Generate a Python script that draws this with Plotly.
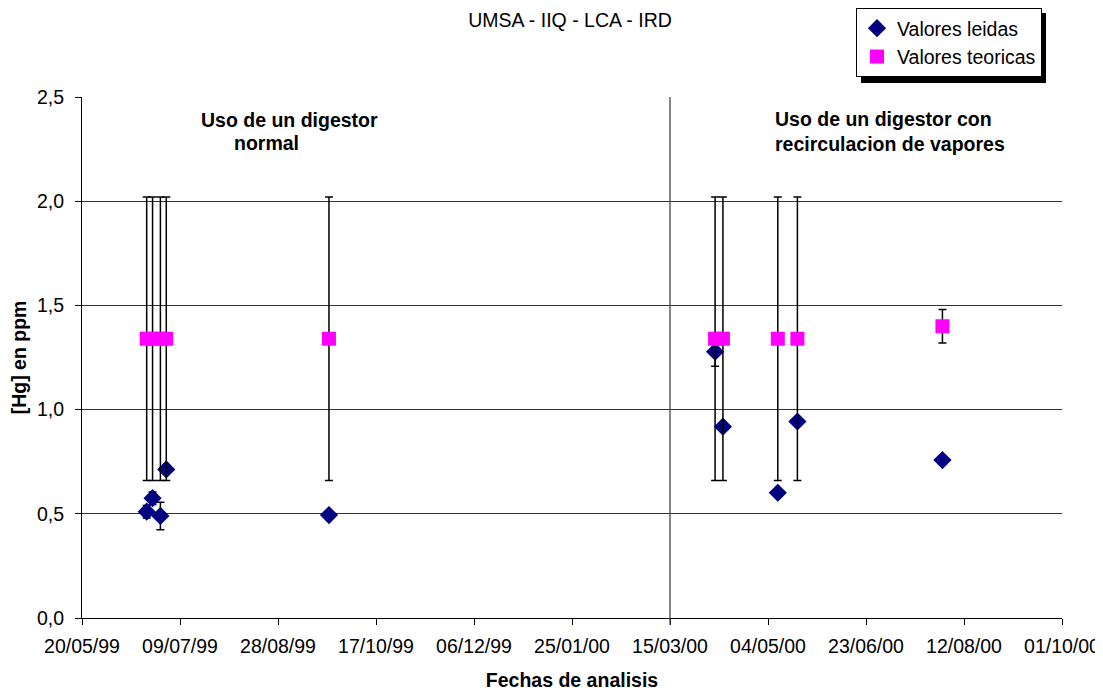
import plotly.graph_objects as go

# ---- data ----
fechas = ["1999-06-22", "1999-06-25", "1999-06-29", "1999-07-02", "1999-09-23",
          "2000-04-07", "2000-04-11", "2000-05-09", "2000-05-19", "2000-08-01"]
valores_leidas = [0.51, 0.575, 0.49, 0.713, 0.494, 1.278, 0.918, 0.601, 0.943, 0.758]
error_leidas = [0.03, 0.03, 0.066, 0.0, 0.0, 0.07, 0.0, 0.0, 0.0, 0.0]
valores_teoricas = [1.34, 1.34, 1.34, 1.34, 1.34, 1.34, 1.34, 1.34, 1.34, 1.40]
error_teoricas = [0.68, 0.68, 0.68, 0.68, 0.68, 0.68, 0.68, 0.68, 0.68, 0.08]

tick_fechas = ["1999-05-20", "1999-07-09", "1999-08-28", "1999-10-17", "1999-12-06",
               "2000-01-25", "2000-03-15", "2000-05-04", "2000-06-23", "2000-08-12",
               "2000-10-01"]
tick_labels = ["20/05/99", "09/07/99", "28/08/99", "17/10/99", "06/12/99",
               "25/01/00", "15/03/00", "04/05/00", "23/06/00", "12/08/00", "01/10/00"]
y_ticks = [0.0, 0.5, 1.0, 1.5, 2.0, 2.5]
y_labels = ["0,0", "0,5", "1,0", "1,5", "2,0", "2,5"]
fecha_division = "2000-03-15"

FONT = "Liberation Sans, Arial, sans-serif"
FS = 19.5

# page layout helpers (the page body has an 8px margin)
OFF = 8
W, H = 1103 - OFF, 691 - OFF
PL, PR, PT, PB = 82, 1062, 97, 618  # plot area in page pixels


def px(xp):
    return (xp - PL) / (PR - PL)


def py(yp):
    return (PB - yp) / (PB - PT)


fig = go.Figure()
fig.add_trace(go.Scatter(
    x=fechas, y=valores_leidas, mode="markers", name="Valores leidas",
    legendgroup="a",
    marker=dict(symbol="diamond", size=14, color="#000080"),
    error_y=dict(type="data", array=error_leidas, visible=True,
                 color="black", thickness=1.5, width=4),
))
fig.add_trace(go.Scatter(
    x=fechas, y=valores_teoricas, mode="markers", name="Valores teoricas",
    legendgroup="b",
    marker=dict(symbol="square", size=14, color="#FF00FF"),
    error_y=dict(type="data", array=error_teoricas, visible=True,
                 color="black", thickness=1.5, width=4),
))

# divider line
fig.add_shape(type="line", xref="x", yref="paper", x0=fecha_division, x1=fecha_division,
              y0=py(625), y1=1, line=dict(color="#444444", width=1.3))

# legend box position (page px) and its shadow
LG_X, LG_Y, LG_W, LG_H = 856, 8, 185, 70
fig.add_shape(type="rect", xref="paper", yref="paper",
              x0=px(LG_X + 5), x1=px(LG_X + LG_W + 5),
              y0=py(LG_Y + LG_H + 5), y1=py(LG_Y + 5),
              fillcolor="black", line=dict(width=0), layer="below")

ann_font = dict(family=FONT, size=FS, color="black")
fig.add_annotation(xref="paper", yref="paper", x=px(289), y=py(120),
                   xanchor="center", yanchor="middle",
                   text="<b>Uso de un digestor</b>", showarrow=False, font=ann_font)
fig.add_annotation(xref="paper", yref="paper", x=px(266), y=py(143),
                   xanchor="center", yanchor="middle",
                   text="<b>normal</b>", showarrow=False, font=ann_font)
fig.add_annotation(xref="paper", yref="paper", x=px(773), y=py(131.5),
                   xanchor="left", yanchor="middle", align="left",
                   text="<b>Uso de un digestor con</b><br><b>recirculacion de vapores</b>",
                   showarrow=False, font=ann_font)

fig.update_layout(
    width=W, height=H,
    margin=dict(l=PL - OFF, r=1103 - PR, t=PT - OFF, b=691 - PB),
    paper_bgcolor="white", plot_bgcolor="white",
    font=dict(family=FONT, size=FS, color="black"),
    title=dict(text="UMSA - IIQ - LCA - IRD", x=(570 - OFF) / W, xanchor="center",
               y=1 - (20 - OFF) / H, yanchor="middle", font=dict(size=FS)),
    showlegend=True,
    legend=dict(xref="paper", yref="container",
                x=px(LG_X), y=1 - (LG_Y - OFF) / H, xanchor="left", yanchor="top",
                bgcolor="white", bordercolor="black", borderwidth=1,
                font=dict(size=FS), traceorder="grouped", tracegroupgap=0,
                itemwidth=30),
    xaxis=dict(
        type="date", range=["1999-05-20", "2000-10-01"], automargin=False,
        tickmode="array", tickvals=tick_fechas, ticktext=tick_labels, tickangle=0,
        showgrid=False, zeroline=False, showline=True, linecolor="black", linewidth=1,
        ticks="outside", ticklen=6, tickcolor="black", ticklabelstandoff=5,
        tickfont=dict(size=FS),
        title=dict(text="<b>Fechas de analisis</b>", font=dict(size=FS), standoff=17),
    ),
    yaxis=dict(
        range=[0, 2.5], tickmode="array", tickvals=y_ticks, ticktext=y_labels,
        automargin=False,
        showgrid=True, gridcolor="#333333", gridwidth=1,
        zeroline=False, showline=True, linecolor="black", linewidth=1,
        ticks="outside", ticklen=6, tickcolor="black", ticklabelstandoff=7,
        tickfont=dict(size=FS),
        title=dict(text="<b>[Hg] en ppm</b>", font=dict(size=FS), standoff=9),
    ),
)

fig.write_html("out.html")
